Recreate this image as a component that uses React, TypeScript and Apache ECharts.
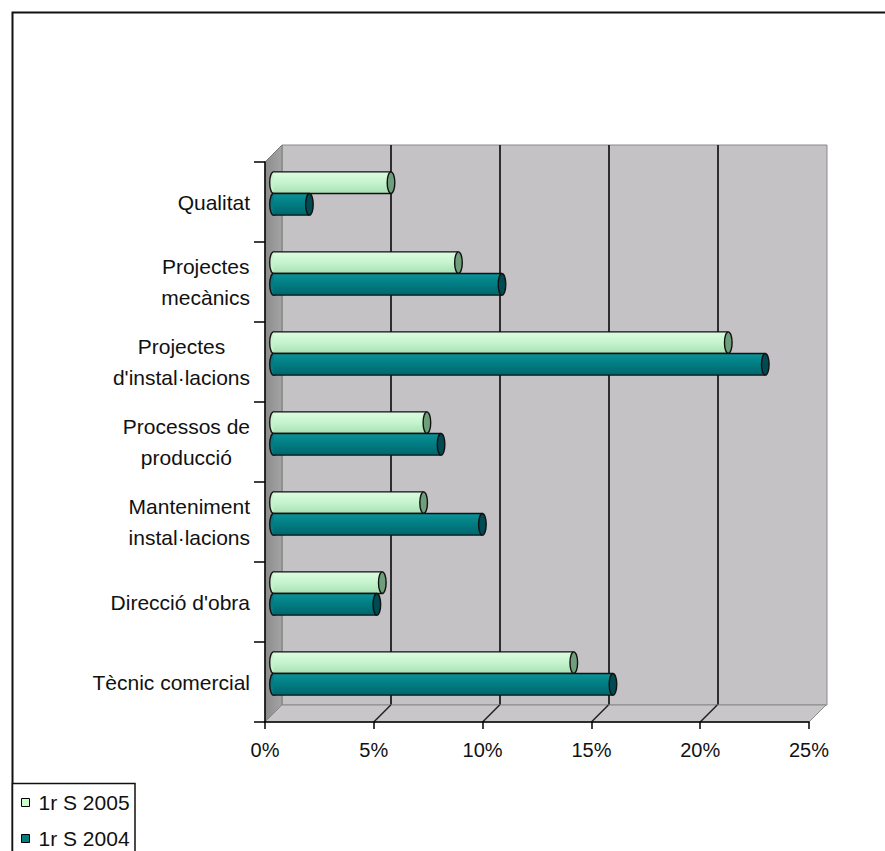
import React, { useEffect, useRef } from 'react';
import * as echarts from 'echarts';

const categories = [
  'Qualitat',
  'Projectes\nmecànics',
  "Projectes\nd'instal·lacions",
  'Processos de\nproducció',
  'Manteniment\ninstal·lacions',
  "Direcció d'obra",
  'Tècnic comercial',
];
const seriesNames = ['1r S 2005', '1r S 2004'];
const values2005 = [5.4, 8.5, 20.9, 7.05, 6.9, 5.0, 13.8];
const values2004 = [1.65, 10.5, 22.6, 7.7, 9.6, 4.75, 15.6];
const xTicks = [0, 5, 10, 15, 20, 25];

const FONT = '"Liberation Sans", Arial, sans-serif';
const DEPTH = 17;

const palettes = [
  { base: '#ccffcc', top: '#dcfde2', mid: '#c4f4cc', bot: '#a9deb4', cap: '#6f9e7a' },
  { base: '#008080', top: '#0b9398', mid: '#007c82', bot: '#00666c', cap: '#004a52' },
];

function barRenderer(slot: number) {
  const pal = palettes[slot];
  return (params: any, api: any) => {
    const v = api.value(0);
    const c = api.value(1);
    const p0 = api.coord([0, c]);
    const p1 = api.coord([v, c]);
    const band = api.size([0, 1])[1];
    const h = band * 0.27;
    const cy = p0[1] - DEPTH / 2;
    const top = slot === 0 ? cy - h : cy;
    const mid = top + h / 2;
    const x0 = p0[0] + DEPTH / 2;
    const x1 = p1[0] + DEPTH / 2;
    const rx = 3.8;
    const grad = new echarts.graphic.LinearGradient(0, 0, 0, 1, [
      { offset: 0, color: pal.top },
      { offset: 0.5, color: pal.mid },
      { offset: 1, color: pal.bot },
    ]);
    const stroke = '#111';
    return {
      type: 'group',
      children: [
        { type: 'ellipse', shape: { cx: x0, cy: mid, rx, ry: h / 2 }, style: { fill: pal.mid, stroke, lineWidth: 1.4 } },
        { type: 'rect', shape: { x: x0, y: top, width: Math.max(0, x1 - x0), height: h }, style: { fill: grad } },
        { type: 'line', shape: { x1: x0, y1: top, x2: x1, y2: top }, style: { stroke, lineWidth: 1.4 } },
        { type: 'line', shape: { x1: x0, y1: top + h, x2: x1, y2: top + h }, style: { stroke, lineWidth: 1.4 } },
        { type: 'ellipse', shape: { cx: x1, cy: mid, rx, ry: h / 2 }, style: { fill: pal.cap, stroke, lineWidth: 1.4 } },
      ],
    };
  };
}

function frameRenderer(params: any, api: any) {
  const cs = params.coordSys;
  const v = api.value(0);
  const px = api.coord([v, 0])[0];
  const yb = cs.y + cs.height;
  const edge = v === xTicks[0] || v === xTicks[xTicks.length - 1];
  const children: any[] = [];
  if (params.dataIndex === 0) {
    children.push({
      type: 'polygon',
      z2: 0,
      shape: {
        points: [
          [cs.x, yb],
          [cs.x + cs.width, yb],
          [cs.x + cs.width + DEPTH, yb - DEPTH],
          [cs.x + DEPTH, yb - DEPTH],
        ],
      },
      style: { fill: '#c9c6c9', stroke: '#8a8a8a', lineWidth: 1 },
    });
    children.push({
      type: 'polygon',
      z2: 1,
      shape: {
        points: [
          [cs.x, cs.y],
          [cs.x + DEPTH, cs.y - DEPTH],
          [cs.x + DEPTH, yb - DEPTH],
          [cs.x, yb],
        ],
      },
      style: {
        fill: new echarts.graphic.LinearGradient(0, 0, 1, 0, [
          { offset: 0, color: '#8c8c8c' },
          { offset: 1, color: '#a4a4a4' },
        ]),
        stroke: '#7a7a7a',
        lineWidth: 1,
      },
    });
  }
  children.push({
    type: 'line',
    z2: 2,
    shape: { x1: px, y1: yb, x2: px + DEPTH, y2: yb - DEPTH },
    style: { stroke: edge ? '#8a8a8a' : '#222', lineWidth: edge ? 1 : 1.5 },
  });
  return { type: 'group', children };
}

export default function App() {
  const ref = useRef<HTMLDivElement>(null);
  useEffect(() => {
    if (!ref.current) return;
    const chart = echarts.init(ref.current, undefined, { renderer: 'svg' });
    const option: any = {
      animation: false,
      backgroundColor: '#ffffff',
      textStyle: { fontFamily: FONT },
      graphic: [
        {
          type: 'rect',
          z: -10,
          shape: { x: 12.5, y: 12.5, width: 900, height: 900 },
          style: { fill: 'none', stroke: '#111', lineWidth: 2 },
          silent: true,
        },
        {
          type: 'rect',
          z: -5,
          shape: { x: 12.5, y: 783.5, width: 122.5, height: 100 },
          style: { fill: '#fff', stroke: '#111', lineWidth: 1.5 },
          silent: true,
        },
      ],
      grid: [
        { left: 265, top: 162, width: 544, height: 560, show: false },
        {
          left: 282, top: 145, width: 545, height: 560, show: true,
          backgroundColor: '#c5c2c5', borderColor: '#8a8a8a', borderWidth: 1,
        },
      ],
      xAxis: [
        {
          gridIndex: 0, type: 'value', min: 0, max: 25, interval: 5, z: 5,
          axisLine: { show: true, lineStyle: { color: '#000', width: 1.5 } },
          axisTick: { show: true, length: 7, lineStyle: { color: '#000', width: 1.5 } },
          axisLabel: { formatter: '{value}%', fontSize: 20, color: '#111', margin: 18, fontFamily: FONT },
          splitLine: { show: false },
        },
        {
          gridIndex: 1, type: 'value', min: 0, max: 25, interval: 5,
          axisLine: { show: false }, axisTick: { show: false }, axisLabel: { show: false },
          splitLine: { show: true, showMinLine: false, showMaxLine: false, lineStyle: { color: '#1e1e1e', width: 1.8 } },
        },
      ],
      yAxis: [
        {
          gridIndex: 0, type: 'category', data: categories, inverse: true, z: 5,
          axisLine: { show: true, lineStyle: { color: '#000', width: 1.5 } },
          axisTick: { show: true, length: 11, lineStyle: { color: '#000', width: 1.5 } },
          axisLabel: {
            margin: 15,
            formatter: (val: string) => val.split('\n').map((s) => `{c|${s}}`).join('\n'),
            rich: { c: { align: 'center', fontSize: 21, lineHeight: 31, color: '#111', fontFamily: FONT } },
          },
        },
        { gridIndex: 1, type: 'value', show: false },
      ],
      legend: {
        left: 12, top: 783, orient: 'vertical',
        itemWidth: 8, itemHeight: 8, itemGap: 15,
        padding: [9, 0, 0, 9],
        icon: 'rect',
        textStyle: { fontSize: 21, color: '#111', fontFamily: FONT, padding: [0, 0, 0, 4] },
        data: [
          { name: seriesNames[0], itemStyle: { color: palettes[0].base, borderColor: '#000', borderWidth: 1 } },
          { name: seriesNames[1], itemStyle: { color: palettes[1].base, borderColor: '#000', borderWidth: 1 } },
        ],
      },
      series: [
        {
          type: 'custom', name: 'frame', xAxisIndex: 0, yAxisIndex: 0, z: 1, silent: true,
          encode: { x: 0, y: 1 },
          data: xTicks.map((t) => [t, 0]),
          renderItem: frameRenderer,
        },
        {
          type: 'custom', name: seriesNames[0], xAxisIndex: 0, yAxisIndex: 0, z: 3,
          itemStyle: { color: palettes[0].base },
          encode: { x: 0, y: 1 },
          data: values2005.map((v, i) => [v, i]),
          renderItem: barRenderer(0),
        },
        {
          type: 'custom', name: seriesNames[1], xAxisIndex: 0, yAxisIndex: 0, z: 3,
          itemStyle: { color: palettes[1].base },
          encode: { x: 0, y: 1 },
          data: values2004.map((v, i) => [v, i]),
          renderItem: barRenderer(1),
        },
      ],
    };
    chart.setOption(option);
    return () => chart.dispose();
  }, []);
  return (
    <div
      ref={ref}
      style={{ position: 'absolute', left: 0, top: 0, width: 885, height: 851, background: '#fff' }}
    />
  );
}
